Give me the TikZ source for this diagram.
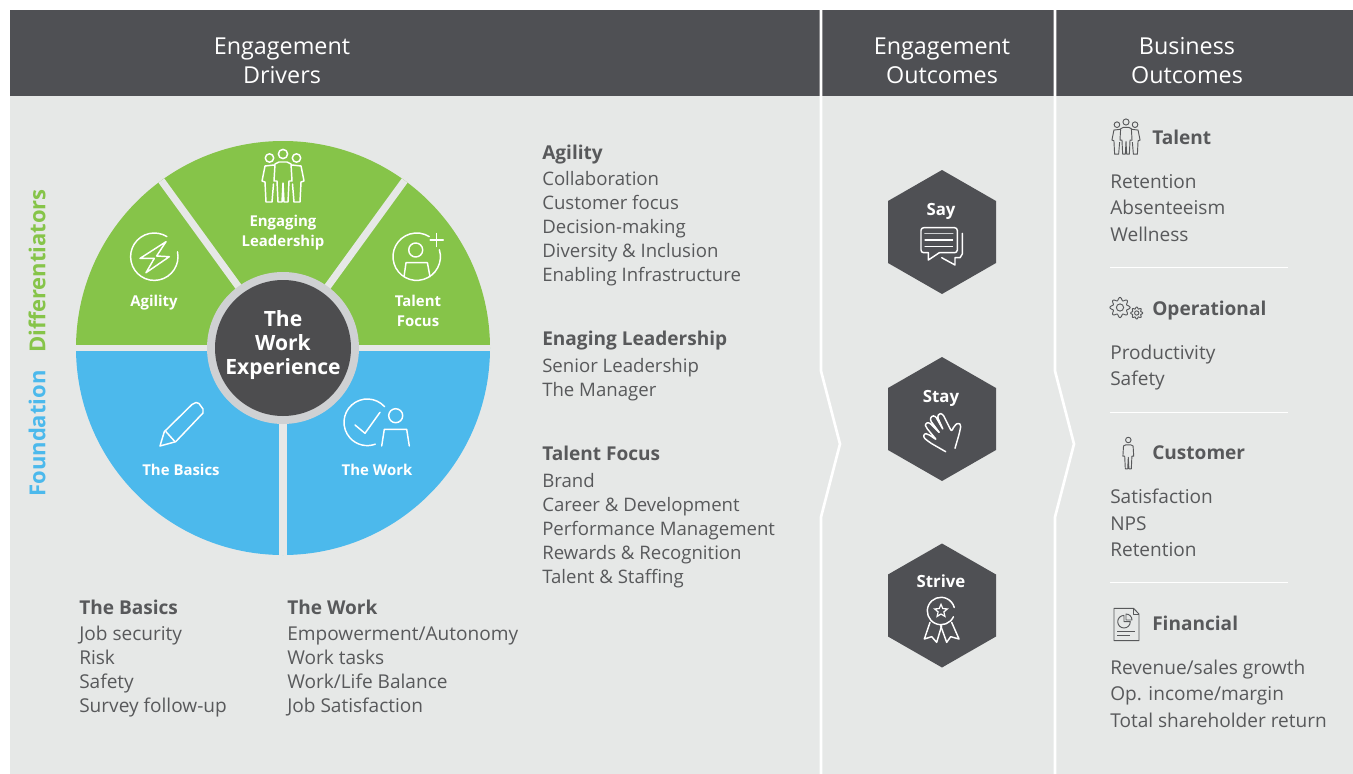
\documentclass[tikz,border=0pt]{standalone}
\usepackage{fontspec}
\setmainfont{Open Sans}
\usetikzlibrary{calc,positioning,shapes.geometric}
\definecolor{headgray}{HTML}{4F5054}
\definecolor{panelgray}{HTML}{E6E8E7}
\definecolor{leafgreen}{HTML}{86C449}
\definecolor{skyblue}{HTML}{4CB9EC}
\definecolor{ringgray}{HTML}{CFD1D3}
\definecolor{bodygray}{HTML}{58595B}
\definecolor{discgray}{HTML}{4D4D4F}
\tikzset{
    headtext/.style={anchor=base,text=white,font=\fontsize{17.5}{20}\selectfont,inner sep=0},
    bodytext/.style={anchor=base west,text=bodygray,font=\fontsize{14.3}{16}\selectfont,inner sep=0},
    midtext/.style={bodytext,font=\fontsize{13.95}{16}\selectfont},
    boldtext/.style={bodytext,font=\fontsize{14.3}{16}\selectfont\bfseries},
    segtext/.style={anchor=base,text=white,font=\fontsize{11.2}{13}\selectfont\bfseries,inner sep=0},
    hextext/.style={anchor=base,text=white,font=\fontsize{12.6}{14}\selectfont\bfseries,inner sep=0},
    coretext/.style={anchor=base,text=white,font=\fontsize{15.8}{17}\selectfont\bfseries,inner sep=0},
    sidetext/.style={rotate=90,font=\fontsize{16.5}{18}\selectfont\bfseries,inner sep=0},
    icon/.style={draw=white,line width=1.1pt,line cap=round,line join=round},
    smallicon/.style={draw=bodygray,line width=0.7pt,line join=round},
    person/.pic={
        \draw (0,0) circle (4.6);
        \draw (-4,8) -- (4,8) -- (8,10) -- (9,27) -- (6,27) -- (5,48) -- (1,48) -- (0,29)
            -- (-1,48) -- (-5,48) -- (-6,27) -- (-9,27) -- (-8,10) -- cycle;
    },
    trio/.pic={
        \draw (0,0) circle (4.6);
        \draw (-4,8) -- (4,8) -- (8,10) -- (9,27) -- (6,27) -- (5,48) -- (1,48) -- (0,29)
            -- (-1,48) -- (-5,48) -- (-6,27) -- (-9,27) -- (-8,10) -- cycle;
        \draw (-13.5,4) circle (4.2);
        \draw (13.5,4) circle (4.2);
        \draw (-9,11) -- (-18,12) -- (-21,27) -- (-18,28) -- (-17,48) -- (-11,48) -- (-9.5,30);
        \draw (9,11) -- (18,12) -- (21,27) -- (18,28) -- (17,48) -- (11,48) -- (9.5,30);
    },
    gearwheel/.pic={
        \draw plot[domain=0:360,samples=73] (\x:{8.6+1.5*cos(8*\x)}) -- cycle;
        \draw (0,0) circle (3.6);
    }
}
\begin{document}
\begin{tikzpicture}[x=0.75pt,y=-0.75pt]
    \useasboundingbox (0,0) rectangle (1353,774);
    \coordinate (O) at (283,348);
    \coordinate (W) at (76,348);
    \coordinate (E) at (490,348);
    \coordinate (S) at (283,555);

    \fill [panelgray] (10,96) rectangle (1353,774);
    \fill [headgray] (10,10) rectangle (1353,96);

    % wheel
    \fill [leafgreen] (W) arc[start angle=180,end angle=360,radius=207] -- cycle;
    \fill [skyblue] (W) arc[start angle=180,end angle=0,radius=207] -- cycle;
    \draw [panelgray,line width=4.6pt] (W) -- (E);
    \draw [panelgray,line width=5.4pt] (O) -- (S);
    \draw [panelgray,line width=5.4pt] (O) -- ++(-126:207);
    \draw [panelgray,line width=5.4pt] (O) -- ++(-54:207);
    \fill [ringgray] (O) circle (76);
    \fill [discgray] (O) circle (68);

    % dividers
    \foreach \px in {821,1055}
    {
        \draw [white,line width=2pt] (\px,10) -- (\px,371) -- (\px+19,444) -- (\px,517) -- (\px,774);
    };
    \foreach \py in {267,412,582}
    {
        \draw [white,line width=0.7pt] (1110,\py) -- (1288,\py);
    };

    % hexagons
    \foreach \c in {232,419,605.5}
    {
        \fill [headgray] (942,\c-62) -- (996,\c-31) -- (996,\c+31) -- (942,\c+62)
            -- (888,\c+31) -- (888,\c-31) -- cycle;
    };

    % header and wheel texts
    \foreach \n/\px/\py/\t in
    {hdDrivA/282/55/Engagement,
        hdDrivB/282/84/Drivers,
        hdOutA/942/55/Engagement,
        hdOutB/942/84/Outcomes,
        hdBusA/1187/55/Business,
        hdBusB/1187/84/Outcomes
    }
    {
        \node[headtext] (\n) at (\px,\py) {\t};
    };
    \foreach \n/\px/\py/\t in
    {segAgility/154/306/Agility,
        segLeadA/283/226/Engaging,
        segLeadB/283/246/Leadership,
        segTalentA/418/306/Talent,
        segTalentB/418/326/Focus,
        segBasics/181/475/The Basics,
        segWork/377/475/The Work
    }
    {
        \node[segtext] (\n) at (\px,\py) {\t};
    };
    \foreach \n/\py/\t in {hexSay/215/Say,hexStay/402/Stay,hexStrive/587/Strive}
    {
        \node[hextext] (\n) at (941,\py) {\t};
    };
    \foreach \n/\py/\t in {coreA/326/The,coreB/350/Work,coreC/374/Experience}
    {
        \node[coretext] (\n) at (283,\py) {\t};
    };
    \node[sidetext,text=leafgreen] (sideDiff) at (37,271) {Differentiators};
    \node[sidetext,text=skyblue] (sideFound) at (37,433.5) {Foundation};

    % lists
    \foreach \n/\py/\t in
    {agA/185/Collaboration,
        agB/209/Customer focus,
        agC/233/Decision-making,
        agD/257/Diversity \& Inclusion,
        agE/281/Enabling Infrastructure,
        leA/372/Senior Leadership,
        leB/396/The Manager,
        taA/487/Brand,
        taB/511/Career \& Development,
        taC/535/Performance Management,
        taD/559/Rewards \& Recognition,
        taE/583/Talent \& Staffing
    }
    {
        \node[midtext] (\n) at (542,\py) {\t};
    };
    \foreach \n/\px/\py/\t in
    {baA/79/640/Job security,
        baB/79/664/Risk,
        baC/79/688/Safety,
        baD/79/712/Survey follow-up,
        woA/287/640/{Empowerment/Autonomy},
        woB/287/664/Work tasks,
        woC/287/688/{Work/Life Balance},
        woD/287/712/Job Satisfaction,
        btA/1110/188/Retention,
        btB/1110/214/Absenteeism,
        btC/1110/241/Wellness,
        boA/1110/359/Productivity,
        boB/1110/385/Safety,
        bcA/1110/503/Satisfaction,
        bcB/1110/530/NPS,
        bcC/1110/556/Retention,
        bfA/1110/674/{Revenue/sales growth},
        bfB/1110/700/{Op. income/margin},
        bfC/1110/727/Total shareholder return
    }
    {
        \node[bodytext] (\n) at (\px,\py) {\t};
    };
    \foreach \n/\px/\py/\t in
    {agH/542/159/Agility,
        leH/542/345/Enaging Leadership,
        taH/542/460/Talent Focus,
        baH/79/614/The Basics,
        woH/287/614/The Work,
        btH/1152/144/Talent,
        boH/1152/315/Operational,
        bcH/1152/459/Customer,
        bfH/1152/630/Financial
    }
    {
        \node[boldtext] (\n) at (\px,\py) {\t};
    };

    % icons in the wheel
    \pic[icon] (iconLead) at (283,154) {trio};

    \coordinate (a) at (154.3,256.7);
    \draw[icon] (a) ++(-12:23.7) arc[start angle=-12,end angle=302,radius=23.7];
    \draw[icon] ($(a)+(11.7,-15)$) -- ++(-26,16.7) -- ++(14.3,0) -- ++(-8.3,14.3) -- ++(23.3,-16) -- ++(-12.7,-0.7) -- cycle;

    \coordinate (t) at (416.7,256.7);
    \draw[icon] (t) ++(-17:23.7) arc[start angle=-17,end angle=302,radius=23.7];
    \draw[icon] ($(t)+(20,-23.2)$) -- ++(0,13) ($(t)+(13.5,-16.7)$) -- ++(13,0);
    \draw[icon] ($(t)+(-1,-6.7)$) circle (7);
    \draw[icon] ($(t)+(-12.7,20)$) -- ++(2,-14) -- ++(21.4,0) -- ++(2.6,14);

    \draw[icon] (160,446) -- (164.3,431.7) -- (192,404.5) -- (196,402.5) -- (199,403.5) -- (203,409) -- (203,413) -- (175.7,441.7) -- cycle;
    \draw[icon] (166,431.7) -- (175,441.7);

    \coordinate (w) at (367.3,422.3);
    \draw[icon] (w) ++(-42:23.3) arc[start angle=-42,end angle=-290,radius=23.3];
    \draw[icon] (355,425) -- (365,433.3) -- (380,412.3);
    \draw[icon] (395.7,415.7) circle (7);
    \draw[icon] (381.7,446) -- (384.3,429.3) -- (406.7,429.3) -- (409.3,446);

    % icons in the hexagons
    \draw[icon,rounded corners=2pt] (928.3,252.7) -- (921,252.7) -- (921,227.7) -- (957.3,227.7) -- (957.3,252.7) -- (939.3,252.7);
    \draw[icon] (928.3,252.7) -- (928.3,260) -- (939.3,252.7);
    \draw[icon,line width=0.8pt] (925,240) -- (952.7,240) (925,246.7) -- (952.7,246.7);
    \draw[icon,line width=1.2pt,draw=ringgray] (925,233.3) -- (952.7,233.3);
    \draw[icon] (962.3,233.3) -- (962.3,254) -- (960,257.7) -- (955,257.7) -- (955,265) -- (941.7,257.7);

    \begin{scope}[shift={(880,350)},scale=1/3]
        \draw[icon,rounded corners=1.6pt] (197,305) -- (150,278) -- (130,262) -- (133,250) -- (144,252) -- (170,270)
            -- (138,232) -- (135,222) -- (145,216) -- (155,225) -- (180,250)
            -- (150,210) -- (155,197) -- (166,198) -- (190,240)
            -- (172,200) -- (178,190) -- (188,192) -- (215,245)
            -- (222,228) -- (235,218) -- (243,225) -- (238,250) -- (225,295);
    \end{scope}

    \coordinate (m) at (941,611);
    \draw[icon] (m) ++(25:13.7) arc[start angle=25,end angle=345,radius=13.7];
    \node[star,star points=5,star point ratio=2.2,draw=white,line width=0.9pt,minimum size=10pt,inner sep=0] (medalStar) at (m) {};
    \begin{scope}[shift={(880,535)},scale=1/3]
        \draw[icon] (150,262) -- (133,312) -- (155,305) -- (170,322) -- (185,272);
        \draw[icon] (215,262) -- (237,312) -- (212,305) -- (200,322) -- (182,272);
    \end{scope}

    % icons on the right
    \pic[smallicon,scale=0.67] (iconTalent) at (1126,122) {trio};
    \pic[smallicon,scale=1] (iconGearA) at (1120,307.5) {gearwheel};
    \pic[smallicon,scale=0.6] (iconGearB) at (1136.7,313) {gearwheel};
    \pic[smallicon,scale=0.6] (iconCustomer) at (1128.3,440) {person};

    \draw[smallicon] (1133.5,608.3) -- (1114,608.3) -- (1114,640.7) -- (1139,640.7) -- (1139,614) -- cycle;
    \draw[smallicon] (1133.5,608.3) -- (1133.5,614) -- (1139,614);
    \draw[smallicon] (1124,615.4) arc[start angle=-90,end angle=-360,radius=6.3] -- (1124,621.7) -- cycle;
    \draw[smallicon] (1126,620) -- (1126,614) arc[start angle=-90,end angle=0,radius=6] -- cycle;
    \draw[smallicon] (1117.3,631.7) -- (1135,631.7) (1117.3,635) -- (1130,635);
\end{tikzpicture}
\end{document}
